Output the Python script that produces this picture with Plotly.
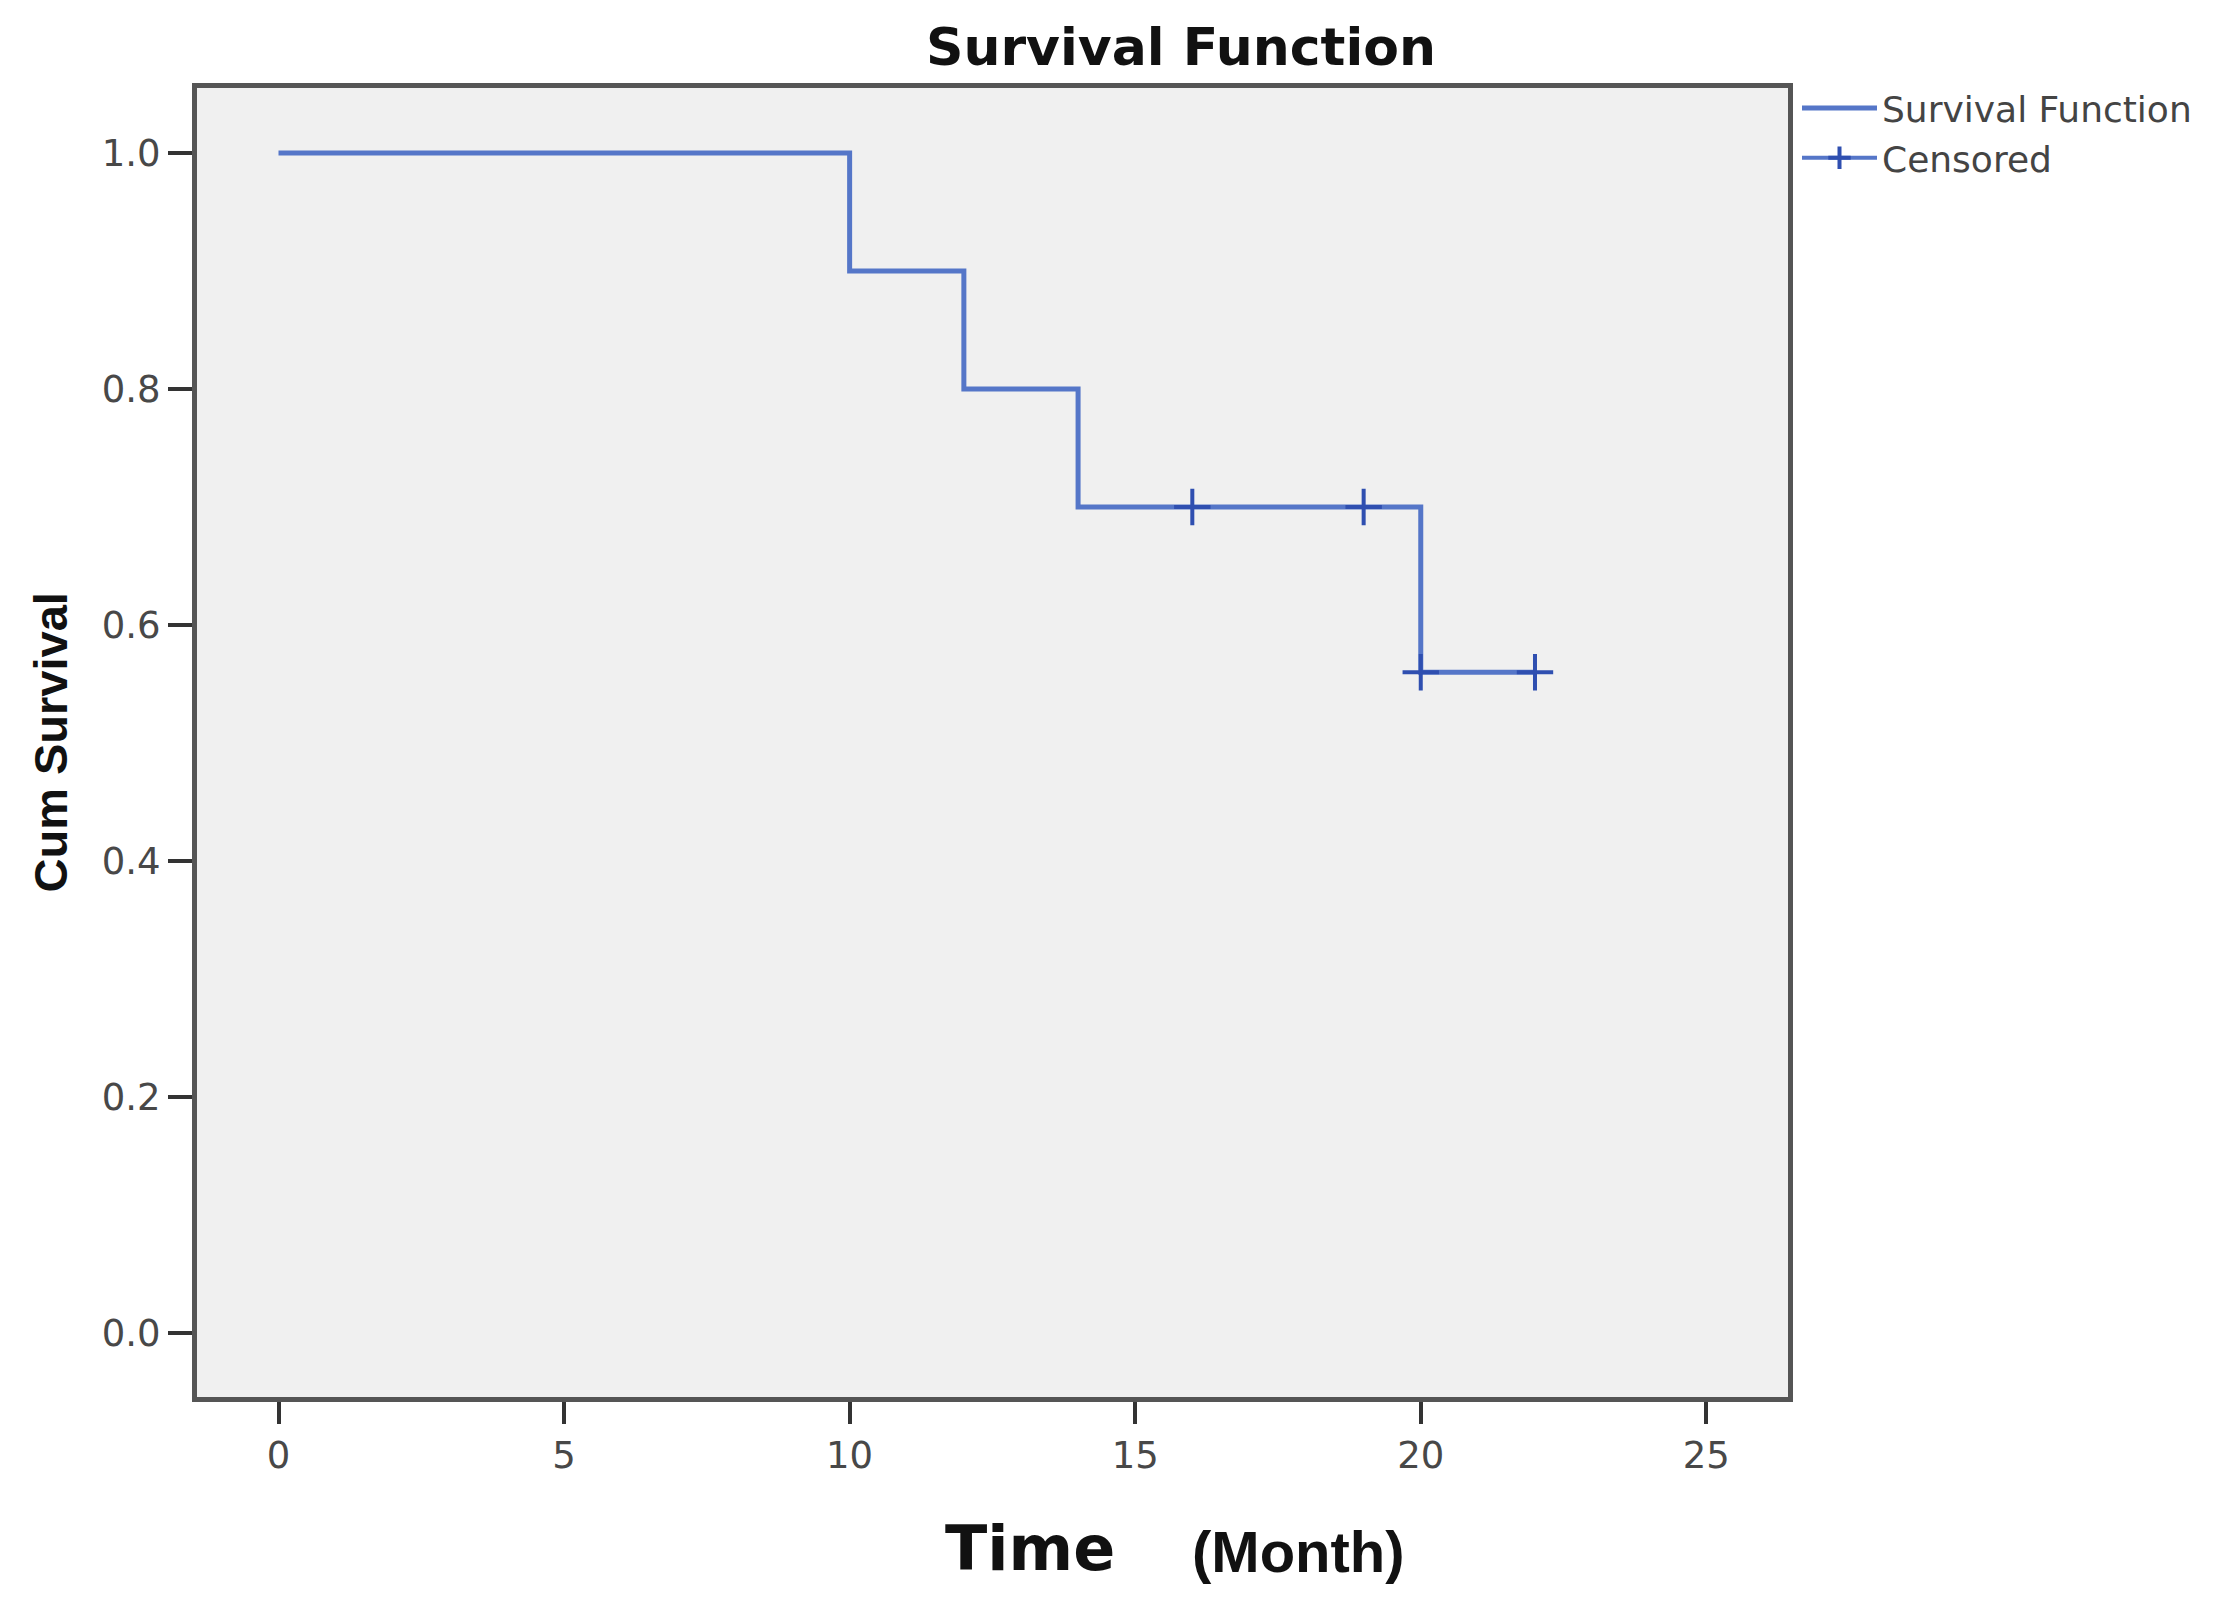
import plotly.graph_objects as go

# Data
step_time = [0, 10, 12, 14, 20, 22]
step_surv = [1.0, 0.9, 0.8, 0.7, 0.56, 0.56]
cens_time = [16, 19, 20, 22]
cens_surv = [0.7, 0.7, 0.56, 0.56]
x_ticks = [0, 5, 10, 15, 20, 25]
y_ticks = [0.0, 0.2, 0.4, 0.6, 0.8, 1.0]
y_ticktext = ["0.0", "0.2", "0.4", "0.6", "0.8", "1.0"]

LINE_C = "#5576c8"
CROSS_C = "#2f4fb0"

fig = go.Figure()
fig.add_trace(go.Scatter(
    x=step_time, y=step_surv, mode="lines", line=dict(shape="hv", color=LINE_C, width=5),
    name="Survival Function", showlegend=True))
fig.add_trace(go.Scatter(
    x=cens_time, y=cens_surv, mode="markers",
    marker=dict(symbol="cross-thin", size=26, line=dict(color=CROSS_C, width=4)),
    name="Censored", showlegend=False))
# legend entry for censored (line with cross)
fig.add_trace(go.Scatter(
    x=[None], y=[None], mode="lines+markers", line=dict(color=LINE_C, width=4),
    marker=dict(symbol="cross-thin", size=26, line=dict(color=CROSS_C, width=4)),
    name="Censored", showlegend=True))

OFF = 8  # page body margin
W, H = 2220, 1601
L = 197 - OFF
T = 88 - OFF
R = W - (1788 - OFF)
B = H - (1397 - OFF)
pw = W - L - R
ph = H - T - B


def px_x(p):
    return (p - OFF - L) / pw


def px_y(p):
    return (H - B - (p - OFF)) / ph


fig.update_layout(
    width=W, height=H,
    margin=dict(l=L, r=R, t=T, b=B),
    paper_bgcolor="white", plot_bgcolor="#f0f0f0",
    font=dict(family="DejaVu Sans", color="#555555"),
    title=dict(text="<b>Survival Function</b>", xref="container", x=(1181 - OFF) / W, xanchor="center",
               yref="container", y=1 - (47 - OFF) / H, yanchor="middle",
               font=dict(family="DejaVu Sans", size=52, color="#111111")),
    showlegend=True,
    legend=dict(x=px_x(1797), xanchor="left", y=px_y(78), yanchor="top", bgcolor="rgba(0,0,0,0)",
                font=dict(family="DejaVu Sans", size=36, color="#444444"),
                itemwidth=75, tracegroupgap=0),
)
fig.update_xaxes(range=[-1.427, 26.43], tickvals=x_ticks, ticks="outside", ticklen=22, tickwidth=4,
                 tickcolor="#333333", showline=True, linecolor="#555555", linewidth=5, mirror=True,
                 showgrid=False, zeroline=False, tickfont=dict(size=37, color="#484848"))
fig.update_yaxes(range=[-0.0542, 1.0551], tickvals=y_ticks, ticktext=y_ticktext, ticks="outside",
                 ticklen=24, tickwidth=4, tickcolor="#333333", showline=True, linecolor="#555555",
                 linewidth=5, mirror=True, showgrid=False, zeroline=False,
                 tickfont=dict(size=37, color="#484848"))

fig.add_annotation(text="<b>Cum Survival</b>", textangle=-90, xref="paper", yref="paper",
                   x=px_x(50), y=0.5, xanchor="center", yanchor="middle", showarrow=False,
                   font=dict(family="Liberation Sans", size=47, color="#111111"))
fig.add_annotation(text="<b>Time</b>", xref="paper", yref="paper",
                   x=px_x(1030), y=px_y(1548), xanchor="center", yanchor="middle",
                   showarrow=False, font=dict(family="DejaVu Sans", size=62, color="#111111"))
fig.add_annotation(text="<b>(Month)</b>", xref="paper", yref="paper",
                   x=px_x(1298), y=px_y(1551), xanchor="center", yanchor="middle",
                   showarrow=False, font=dict(family="Liberation Sans", size=58, color="#111111"))

fig.write_html("out.html")
